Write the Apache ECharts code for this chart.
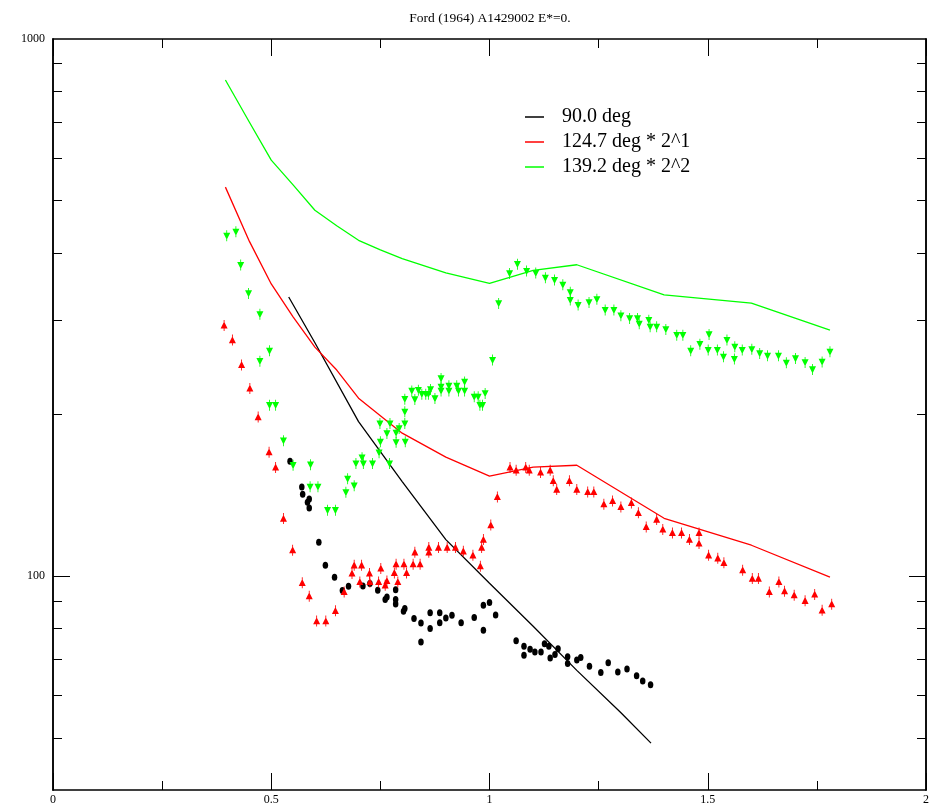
<!DOCTYPE html>
<html>
<head>
<meta charset="utf-8">
<script src="https://cdn.jsdelivr.net/npm/echarts@6/dist/echarts.min.js"></script>
<style>
  html, body { margin: 0; padding: 0; background: #fff; }
  #chart { width: 938px; height: 808px; }
</style>
</head>
<body>
<div id="chart"></div>
<script>
// Ford (1964) elastic cross sections vs. momentum transfer, three angles.

const titleText = 'Ford (1964) A1429002 E*=0.';

// x-axis tick labels and log-axis tick values
const xTickLabels = ['0', '0.5', '1', '1.5', '2'];
const yMajorTicks = [100];
const yMinorTicks = [50, 60, 70, 80, 90, 200, 300, 400, 500, 600, 700, 800, 900];
const yLabelTicks = [100, 1000];

// theory curves
const line90 = [
  [0.54, 331], [0.6, 272], [0.7, 194], [0.8, 150], [0.9, 117], [1.0, 97],
  [1.1, 80.7], [1.2, 66.8], [1.3, 55.8], [1.37, 48.9]
];
const line124 = [
  [0.395, 530], [0.45, 420], [0.5, 350], [0.55, 304], [0.6, 267], [0.65, 242],
  [0.7, 214.5], [0.8, 184.6], [0.9, 166.6], [1.0, 153.6], [1.1, 159.6],
  [1.2, 160.9], [1.4, 128.2], [1.6, 114.2], [1.78, 99.6]
];
const line139 = [
  [0.395, 839], [0.45, 700], [0.5, 595], [0.55, 535], [0.6, 480], [0.65, 449],
  [0.7, 422], [0.75, 405], [0.8, 390], [0.9, 367], [1.0, 351], [1.1, 371],
  [1.2, 380], [1.4, 334], [1.6, 322.5], [1.78, 287]
];

// measured points, 90.0 deg
const data90 = [
  [0.543, 163.7], [0.570, 146.6], [0.572, 142.1], [0.587, 139.3], [0.583, 137.3],
  [0.587, 133.9], [0.609, 115.7], [0.624, 104.8], [0.645, 99.6], [0.663, 94.1],
  [0.677, 95.8], [0.710, 95.9], [0.726, 96.9], [0.744, 94.2], [0.765, 91.5],
  [0.761, 90.5], [0.785, 94.4], [0.785, 90.5], [0.785, 88.8], [0.806, 87.1],
  [0.803, 86.1], [0.827, 83.4], [0.843, 81.8], [0.843, 75.4], [0.864, 85.5],
  [0.864, 79.9], [0.886, 85.5], [0.886, 81.9], [0.900, 83.6], [0.914, 84.6],
  [0.935, 81.9], [0.965, 83.8], [0.986, 88.3], [0.986, 79.3], [1.000, 89.3],
  [1.014, 84.7], [1.061, 75.8], [1.079, 74.1], [1.079, 71.3], [1.093, 73.1],
  [1.104, 72.3], [1.118, 72.3], [1.126, 74.9], [1.136, 74.1], [1.139, 70.4],
  [1.150, 71.5], [1.157, 73.3], [1.179, 70.8], [1.179, 68.8], [1.200, 69.8],
  [1.209, 70.6], [1.229, 68.0], [1.255, 66.2], [1.272, 69.0], [1.294, 66.3],
  [1.315, 67.2], [1.337, 65.3], [1.351, 63.8], [1.369, 62.8]
];

// measured points, 124.7 deg (scaled by 2^1)
const data124 = [
  [0.392, 293.0], [0.411, 275.1], [0.432, 247.4], [0.451, 223.6], [0.470, 197.8],
  [0.495, 170.2], [0.510, 159.4], [0.528, 128.0], [0.549, 111.8], [0.571, 97.2],
  [0.587, 91.8], [0.604, 82.5], [0.625, 82.5], [0.647, 86.2], [0.667, 93.5],
  [0.685, 101.2], [0.690, 104.8], [0.703, 97.6], [0.707, 104.8], [0.725, 101.2],
  [0.726, 97.6], [0.746, 97.6], [0.751, 103.4], [0.761, 96.2], [0.765, 98.0],
  [0.782, 101.4], [0.786, 105.3], [0.790, 97.6], [0.804, 105.3], [0.810, 101.4],
  [0.825, 105.3], [0.829, 110.8], [0.841, 105.3], [0.861, 110.8], [0.861, 113.1],
  [0.883, 113.1], [0.903, 113.1], [0.922, 113.1], [0.940, 111.3], [0.962, 109.4],
  [0.979, 104.4], [0.982, 113.1], [0.986, 117.0], [1.003, 124.5], [1.018, 140.5],
  [1.047, 159.4], [1.061, 157.5], [1.083, 159.4], [1.091, 157.5], [1.117, 156.0],
  [1.139, 157.5], [1.146, 150.5], [1.154, 145.0], [1.183, 150.5], [1.200, 145.0],
  [1.225, 143.5], [1.239, 143.5], [1.262, 136.2], [1.282, 138.1], [1.301, 134.6],
  [1.325, 136.9], [1.341, 131.2], [1.359, 123.5], [1.383, 127.5], [1.397, 122.2],
  [1.419, 120.4], [1.440, 120.4], [1.458, 117.0], [1.480, 120.4], [1.480, 115.1],
  [1.502, 109.4], [1.523, 108.0], [1.537, 105.9], [1.580, 102.6], [1.602, 99.0],
  [1.616, 99.0], [1.641, 93.5], [1.663, 97.6], [1.676, 93.8], [1.698, 92.2],
  [1.723, 90.0], [1.745, 92.5], [1.762, 86.4], [1.784, 88.7]
];

// measured points, 139.2 deg (scaled by 2^2)
const data139 = [
  [0.398, 430.1], [0.419, 437.6], [0.430, 379.5], [0.448, 336.1], [0.474, 307.2],
  [0.496, 262.8], [0.474, 251.4], [0.496, 208.2], [0.510, 208.2], [0.528, 178.8],
  [0.550, 160.9], [0.590, 161.3], [0.589, 146.7], [0.607, 146.7], [0.629, 132.7],
  [0.647, 132.7], [0.675, 151.8], [0.671, 143.3], [0.690, 147.4], [0.694, 162.1],
  [0.708, 166.2], [0.711, 162.1], [0.732, 162.1], [0.747, 169.8], [0.750, 177.9],
  [0.771, 162.1], [0.786, 177.5], [0.807, 177.9], [0.749, 192.4], [0.765, 184.4],
  [0.772, 192.4], [0.786, 184.9], [0.793, 188.4], [0.806, 192.4], [0.806, 202.3],
  [0.806, 213.6], [0.822, 221.3], [0.829, 213.3], [0.837, 222.0], [0.845, 218.2],
  [0.854, 218.2], [0.860, 218.2], [0.865, 222.7], [0.875, 214.2], [0.889, 233.4],
  [0.889, 225.2], [0.889, 221.3], [0.907, 226.2], [0.907, 221.3], [0.925, 226.2],
  [0.929, 221.3], [0.943, 230.0], [0.943, 221.3], [0.965, 215.7], [0.974, 215.7],
  [0.978, 208.2], [0.984, 208.2], [0.990, 218.9], [1.007, 252.5], [1.021, 322.0],
  [1.046, 366.1], [1.064, 381.0], [1.085, 369.8], [1.106, 366.6], [1.128, 359.3],
  [1.149, 355.8], [1.168, 348.7], [1.185, 337.6], [1.185, 326.6], [1.203, 319.7],
  [1.228, 323.4], [1.246, 327.6], [1.265, 312.9], [1.285, 312.9], [1.301, 305.5],
  [1.321, 301.9], [1.339, 301.9], [1.343, 295.0], [1.365, 299.7], [1.368, 291.2],
  [1.383, 291.2], [1.404, 288.0], [1.429, 281.0], [1.443, 281.0], [1.461, 262.8],
  [1.482, 270.4], [1.503, 281.8], [1.501, 263.6], [1.522, 263.6], [1.536, 256.1],
  [1.544, 275.1], [1.561, 253.6], [1.562, 267.3], [1.579, 263.6], [1.601, 264.4],
  [1.619, 259.8], [1.637, 257.2], [1.662, 257.2], [1.680, 249.6], [1.701, 254.3],
  [1.723, 250.0], [1.740, 242.6], [1.762, 250.6], [1.780, 261.6]
];

const SERIF = '"Liberation Serif", "DejaVu Serif", serif';

// marker shapes: triangle with a short error-bar stem
const markUp = 'path://M5,2 L10,11 L0,11 Z M4.4,0 H5.6 V14 H4.4 Z';
const markDown = 'path://M0,3 L10,3 L5,12 Z M4.4,0 H5.6 V14 H4.4 Z';

function xAxisDef(pos, showLabels) {
  return {
    type: 'value', position: pos, min: 0, max: 2, interval: 0.5,
    axisLine: { show: true, onZero: false, lineStyle: { color: '#000', width: 1.5 } },
    axisTick: { show: true, inside: true, length: 17, lineStyle: { color: '#000', width: 1 } },
    minorTick: { show: true, splitNumber: 2, length: 9, lineStyle: { color: '#000', width: 1 } },
    axisLabel: {
      show: showLabels, margin: 4, fontFamily: SERIF, fontSize: 12, color: '#000',
      formatter: function (v) { return xTickLabels[Math.round(v / 0.5)]; }
    },
    splitLine: { show: false }
  };
}

function yAxisDef(pos, ticks, len, labels) {
  return {
    type: 'log', logBase: 10, position: pos, min: 40, max: 1000,
    axisLine: { show: true, onZero: false, lineStyle: { color: '#000', width: 1.5 } },
    axisTick: { show: true, inside: true, length: len, customValues: ticks,
                lineStyle: { color: '#000', width: 1 } },
    axisLabel: labels ? {
      show: true, customValues: yLabelTicks, margin: 8,
      fontFamily: SERIF, fontSize: 12, color: '#000',
      formatter: function (v) { return String(Math.round(v)); }
    } : { show: false },
    splitLine: { show: false },
    minorTick: { show: false }
  };
}

const chart = echarts.init(document.getElementById('chart'), null, { renderer: 'canvas' });

chart.setOption({
  animation: false,
  backgroundColor: '#fff',
  title: {
    text: titleText, left: 485, top: 6, textAlign: 'center',
    textStyle: { fontFamily: SERIF, fontSize: 13.5, fontWeight: 'normal', color: '#000' }
  },
  grid: { left: 53, right: 12, top: 39, bottom: 18, containLabel: false },
  legend: {
    data: ['90.0 deg', '124.7 deg * 2^1', '139.2 deg * 2^2'],
    orient: 'vertical', left: 520, top: 102, itemGap: 5,
    icon: 'rect', itemWidth: 19, itemHeight: 1.5,
    textStyle: { fontFamily: SERIF, fontSize: 20, color: '#000', padding: [0, 0, 0, 13] }
  },
  xAxis: [xAxisDef('bottom', true), xAxisDef('top', false)],
  yAxis: [
    yAxisDef('left', yMajorTicks, 17, true),
    yAxisDef('left', yMinorTicks, 9, false),
    yAxisDef('right', yMajorTicks, 17, false),
    yAxisDef('right', yMinorTicks, 9, false)
  ],
  series: [
    { name: '90.0 deg', type: 'line', data: line90, showSymbol: false,
      lineStyle: { color: '#000', width: 1.3 }, itemStyle: { color: '#000' }, z: 3 },
    { name: '124.7 deg * 2^1', type: 'line', data: line124, showSymbol: false,
      lineStyle: { color: '#ff0000', width: 1.3 }, itemStyle: { color: '#ff0000' }, z: 3 },
    { name: '139.2 deg * 2^2', type: 'line', data: line139, showSymbol: false,
      lineStyle: { color: '#00ff00', width: 1.3 }, itemStyle: { color: '#00ff00' }, z: 3 },
    { name: 'data 90.0', type: 'scatter', data: data90, symbol: 'circle',
      symbolSize: [5.5, 7], itemStyle: { color: '#000', opacity: 1 }, z: 4 },
    { name: 'data 124.7', type: 'scatter', data: data124, symbol: markUp,
      symbolSize: [7, 11], itemStyle: { color: '#ff0000', opacity: 1 }, z: 4 },
    { name: 'data 139.2', type: 'scatter', data: data139, symbol: markDown,
      symbolSize: [7, 11], itemStyle: { color: '#00ff00', opacity: 1 }, z: 4 }
  ]
});
</script>
</body>
</html>
